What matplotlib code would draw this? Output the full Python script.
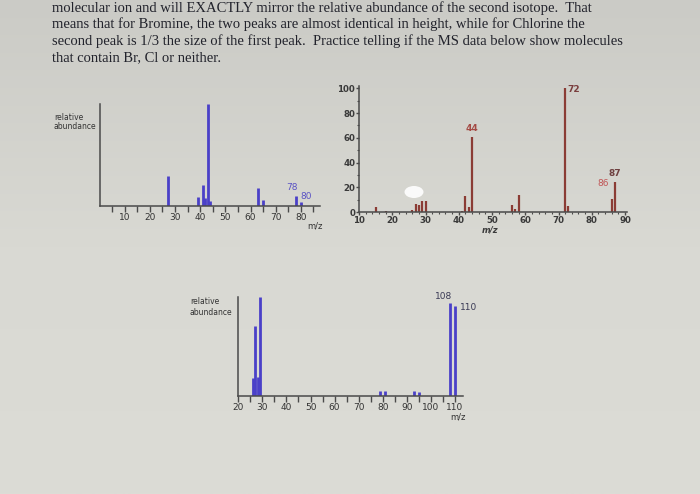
"""
Three mass spectra from a textbook page (Cl / none / Br practice)
"""
import matplotlib
matplotlib.use('Agg')
import matplotlib.pyplot as plt
import numpy as np
from matplotlib.patches import Ellipse

W, H = 700, 494

# ── Data ──────────────────────────────────────────────────────────────────────
intro_lines = [
    "molecular ion and will EXACTLY mirror the relative abundance of the second isotope.  That",
    "means that for Bromine, the two peaks are almost identical in height, while for Chlorine the",
    "second peak is 1/3 the size of the first peak.  Practice telling if the MS data below show molecules",
    "that contain Br, Cl or neither.",
]

# spectrum A (top left, blue)
a_mz     = [27, 39, 41, 42, 43, 44, 63, 65, 78, 80]
a_height = [29, 9, 21, 7.5, 100, 4.5, 18, 6, 10, 4]
a_ticks  = [10, 20, 30, 40, 50, 60, 70, 80]

# spectrum B (top right, brown)
b_mz     = [15, 18, 26, 27, 28, 29, 30, 41, 42, 43, 44, 56, 57, 58, 72, 73, 86, 87]
b_height = [4, 1, 1.5, 7, 6, 9, 9.5, 1, 13.5, 4.5, 61, 6, 3, 14, 100, 5, 11, 24.5]
b_xticks = [10, 20, 30, 40, 50, 60, 70, 80, 90]
b_yticks = [0, 20, 40, 60, 80, 100]

# spectrum C (bottom, blue)
c_mz     = [26, 27, 28, 29, 79, 81, 93, 95, 108, 110]
c_height = [17.5, 71, 19, 100, 5, 5, 5, 4, 94, 91]
c_ticks  = [20, 30, 40, 50, 60, 70, 80, 90, 100, 110]

BLUE  = '#4a40c8'
BROWN = '#8b3c35'
AXIS  = '#4a4a4a'
BG    = '#d8d8d2'


def px_axes(fig, x0, y0, x1, y1):
    ax = fig.add_axes([x0 / W, 1 - y1 / H, (x1 - x0) / W, (y1 - y0) / H])
    ax.set_facecolor('none')
    for s in ('top', 'right'):
        ax.spines[s].set_visible(False)
    for s in ('left', 'bottom'):
        ax.spines[s].set_color(AXIS)
        ax.spines[s].set_linewidth(1.1)
    return ax


def ftext(x, y, s, **kw):
    fig.text(x / W, 1 - y / H, s, **kw)


fig = plt.figure(figsize=(W / 100, H / 100), dpi=100, facecolor=BG)

# paper background: a little darker near the top of the photo
bg = fig.add_axes([0, 0, 1, 1], zorder=-10)
bg.axis('off')
grad = np.linspace(0, 1, 256)[:, None]
bg.imshow(grad, aspect='auto', extent=(0, 1, 0, 1),
          cmap=matplotlib.colors.LinearSegmentedColormap.from_list(
              'paper', ['#cbcbc6', '#d9d9d3', '#dcdcd6']))

# ── Intro text ────────────────────────────────────────────────────────────────
for i, line in enumerate(intro_lines):
    ftext(52, 8 + i * 16.5, line, family='Liberation Serif', fontsize=10.5,
          color='#22232c', va='center', ha='left')

# ── Spectrum A ────────────────────────────────────────────────────────────────
ax = px_axes(fig, 99.6, 104, 320, 206)
ax.vlines(a_mz, 0, a_height, color=BLUE, lw=2)
ax.set_xlim(0, 87.6)
ax.set_ylim(0, 100)
ax.set_yticks([])
ax.set_xticks(a_ticks)
ax.set_xticks([t - 5 for t in a_ticks] + [85], minor=True)
ax.tick_params(axis='x', which='both', direction='out', length=4, width=1,
               color=AXIS, labelsize=6.5, labelcolor='#333333', pad=1.2)
ax.annotate('78', (78, 10), xytext=(-3, 3), textcoords='offset points',
            fontsize=6.5, color='#5a52c4', ha='center', va='bottom')
ax.annotate('80', (80, 4), xytext=(4, 1), textcoords='offset points',
            fontsize=6.5, color='#5a52c4', ha='center', va='bottom')
ftext(315, 226, 'm/z', fontsize=6, color='#333333', ha='center', va='center')
ftext(54, 122, 'relative\nabundance', fontsize=5.5, color='#333333',
      ha='left', va='center', linespacing=1.05)

# ── Spectrum B ────────────────────────────────────────────────────────────────
ax = px_axes(fig, 359, 85.7, 627, 212.3)
ax.vlines(b_mz, 0, b_height, color=BROWN, lw=1.6)
ax.set_xlim(10, 90.6)
ax.set_ylim(0, 102)
ax.set_xticks(b_xticks)
ax.set_xticks(range(12, 90, 2), minor=True)
ax.set_yticks(b_yticks)
ax.set_yticks(range(10, 100, 20), minor=True)
ax.tick_params(which='major', direction='out', length=2.5, width=1, color=AXIS,
               labelsize=6.2, labelcolor='#3a3a3a', pad=0.3)
ax.tick_params(which='minor', direction='out', length=1.5, width=0.8, color=AXIS)
for t in ax.get_xticklabels() + ax.get_yticklabels():
    t.set_fontweight('bold')
ax.annotate('72', (72, 100), xytext=(6, -1), textcoords='offset points',
            fontsize=6.5, fontweight='bold', color='#7a3e3e', ha='center', va='center')
ax.annotate('44', (44, 61), xytext=(0, 6), textcoords='offset points',
            fontsize=6.5, fontweight='bold', color='#a44a44', ha='center', va='center')
ax.annotate('86', (86, 11), xytext=(-6, 11), textcoords='offset points',
            fontsize=6.5, color='#c05555', ha='center', va='center')
ax.annotate('87', (87, 24.5), xytext=(0, 6), textcoords='offset points',
            fontsize=6.5, fontweight='bold', color='#6e4040', ha='center', va='center')
ftext(490, 229.5, 'm/z', fontsize=6, fontweight='bold', style='italic',
      color='#3a3a3a', ha='center', va='center')

# photo glare
fig.patches.append(Ellipse((414 / W, 1 - 192 / H), 19 / W, 12 / H,
                           transform=fig.transFigure, facecolor='white',
                           edgecolor='none', alpha=0.9))

# ── Spectrum C ────────────────────────────────────────────────────────────────
ax = px_axes(fig, 238.3, 297.3, 462.7, 395.7)
ax.vlines(c_mz, 0, c_height, color=BLUE, lw=2)
ax.set_xlim(20, 113.2)
ax.set_ylim(0, 100)
ax.set_yticks([])
ax.set_xticks(c_ticks)
ax.set_xticks([t + 5 for t in c_ticks[:-1]], minor=True)
ax.tick_params(axis='x', which='both', direction='out', length=4, width=1,
               color=AXIS, labelsize=6.5, labelcolor='#333333', pad=1.2)
ax.annotate('108', (108, 94), xytext=(-5, 5), textcoords='offset points',
            fontsize=6.5, color='#3a3a55', ha='center', va='center')
ax.annotate('110', (110, 91), xytext=(10, -1), textcoords='offset points',
            fontsize=6.5, color='#3a3a55', ha='center', va='center')
ftext(458, 417, 'm/z', fontsize=6, color='#333333', ha='center', va='center')
ftext(190, 307, 'relative\nabundance', fontsize=5.5, color='#333333',
      ha='left', va='center', linespacing=1.2)

plt.savefig('out.png', dpi=100, facecolor=BG)
plt.close(fig)
